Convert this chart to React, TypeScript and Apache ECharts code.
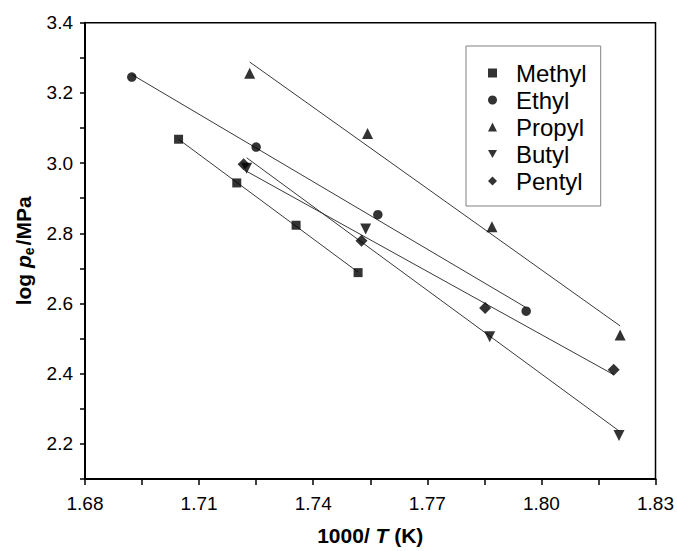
import React, { useEffect, useRef } from "react";
import * as echarts from "echarts";

const seriesNames = ["Methyl", "Ethyl", "Propyl", "Butyl", "Pentyl"];
const seriesSymbols = ["rect", "circle", "triangle", "path://M0,0L10,0L5,9Z", "diamond"];
const seriesSizes = [9, 9.5, 11, 11, 12];

const methylX = [1.7046, 1.7199, 1.7355, 1.7518];
const methylY = [3.068, 2.9435, 2.823, 2.688];
const ethylX = [1.6923, 1.725, 1.757, 1.796];
const ethylY = [3.245, 3.0456, 2.853, 2.578];
const propylX = [1.7233, 1.7543, 1.787, 1.8207];
const propylY = [3.256, 3.084, 2.819, 2.51];
const butylX = [1.7225, 1.7538, 1.7864, 1.8204];
const butylY = [2.985, 2.812, 2.505, 2.224];
const pentylX = [1.7217, 1.7527, 1.7852, 1.819];
const pentylY = [2.997, 2.779, 2.587, 2.411];

const allX = [methylX, ethylX, propylX, butylX, pentylX];
const allY = [methylY, ethylY, propylY, butylY, pentylY];

function linFit(xs: number[], ys: number[]) {
  const n = xs.length;
  const mx = xs.reduce((a, b) => a + b, 0) / n;
  const my = ys.reduce((a, b) => a + b, 0) / n;
  let sxy = 0, sxx = 0;
  for (let i = 0; i < n; i++) {
    sxy += (xs[i] - mx) * (ys[i] - my);
    sxx += (xs[i] - mx) * (xs[i] - mx);
  }
  const b = sxy / sxx;
  const a = my - b * mx;
  const x0 = Math.min(...xs);
  const x1 = Math.max(...xs);
  return [[x0, a + b * x0], [x1, a + b * x1]];
}

const FONT = "'Liberation Sans', Arial, sans-serif";

export default function App() {
  const ref = useRef<HTMLDivElement>(null);
  useEffect(() => {
    const chart = echarts.init(ref.current!, null, { renderer: "svg" });
    const lineSeries = seriesNames.map((n, i) => ({
      name: n + " fit",
      type: "line",
      data: linFit(allX[i], allY[i]),
      showSymbol: false,
      symbol: "none",
      lineStyle: { color: "#222", width: 0.9 },
      z: 2,
      silent: true,
    }));
    const scatterSeries = seriesNames.map((n, i) => ({
      name: n,
      type: "scatter",
      data: allX[i].map((x, j) => [x, allY[i][j]]),
      symbol: seriesSymbols[i],
      symbolSize: seriesSizes[i],
      itemStyle: { color: "#000" },
      z: 3,
    }));
    chart.setOption({
      animation: false,
      backgroundColor: "#fff",
      textStyle: { fontFamily: FONT },
      grid: {
        left: 85,
        right: 21,
        top: 22.7,
        bottom: 66.7,
        show: true,
        borderColor: "#000",
        borderWidth: 1.5,
        backgroundColor: "transparent",
      },
      legend: {
        data: seriesNames.map((n, i) => ({ name: n, icon: seriesSymbols[i] })),
        orient: "vertical",
        left: 466,
        top: 46,
        padding: [15, 14, 13, 22],
        itemGap: 3,
        itemWidth: 9,
        itemHeight: 9,
        borderColor: "#808080",
        borderWidth: 1,
        textStyle: { fontSize: 24, color: "#000", fontFamily: FONT, padding: [0, 0, 0, 14] },
      },
      xAxis: {
        type: "value",
        min: 1.68,
        max: 1.83,
        interval: 0.015,
        name: "{b|1000/ }{i|T}{b| (K)}",
        nameLocation: "middle",
        nameGap: 46,
        nameTextStyle: {
          rich: {
            b: { fontSize: 21, fontWeight: "bold", fontFamily: FONT, color: "#000" },
            i: { fontSize: 21, fontWeight: "bold", fontStyle: "italic", fontFamily: FONT, color: "#000" },
          },
        },
        axisLine: { onZero: false, lineStyle: { color: "#000", width: 2 } },
        axisTick: { inside: false, length: 6, lineStyle: { color: "#000", width: 1.5 } },
        splitLine: { show: false },
        axisLabel: {
          fontSize: 19,
          color: "#000",
          margin: 15,
          fontFamily: FONT,
          formatter: (v: number) =>
            Math.round((v - 1.68) / 0.015) % 2 === 0 ? v.toFixed(2) : "",
        },
      },
      yAxis: {
        type: "value",
        min: 2.1,
        max: 3.4,
        interval: 0.1,
        name: "{b|log }{i|p}{s|e}{b|/MPa}",
        nameLocation: "middle",
        nameGap: 49,
        nameRotate: 90,
        nameTextStyle: {
          rich: {
            b: { fontSize: 21, fontWeight: "bold", fontFamily: FONT, color: "#000" },
            i: { fontSize: 21, fontWeight: "bold", fontStyle: "italic", fontFamily: FONT, color: "#000" },
            s: { fontSize: 14, fontWeight: "bold", fontFamily: FONT, color: "#000", verticalAlign: "bottom", padding: [10, 2, 0, 0] },
          },
        },
        axisLine: { onZero: false, lineStyle: { color: "#000", width: 2 } },
        axisTick: { inside: false, length: 5, lineStyle: { color: "#000", width: 1.5 } },
        splitLine: { show: false },
        axisLabel: {
          fontSize: 19,
          color: "#000",
          margin: 12,
          fontFamily: FONT,
          formatter: (v: number) =>
            Math.round(v * 10) % 2 === 0 ? v.toFixed(1) : "",
        },
      },
      series: [...lineSeries, ...scatterSeries],
    });
    return () => chart.dispose();
  }, []);
  return (
    <div
      ref={ref}
      style={{ position: "absolute", left: 0, top: 0, width: 677, height: 551 }}
    />
  );
}
